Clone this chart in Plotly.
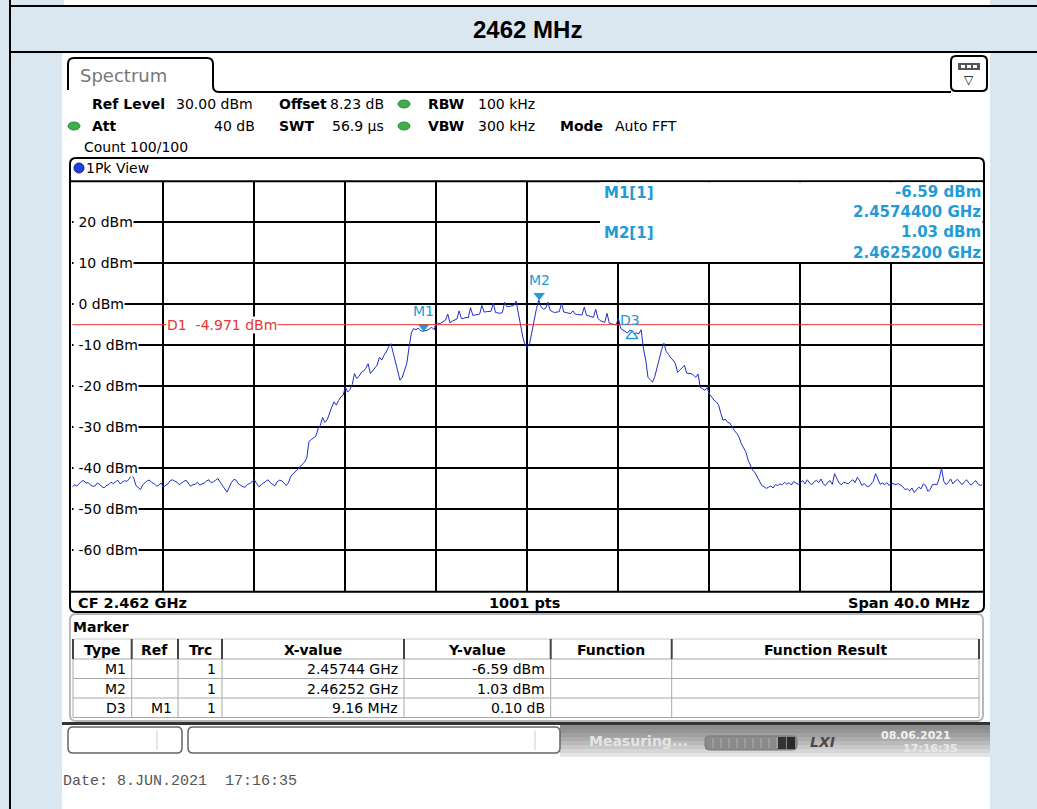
import numpy as np
import plotly.graph_objects as go

W, H = 1037, 809

# ---------------- data ----------------
title_text = "2462 MHz"
center_freq_ghz = 2.462
span_mhz = 40.0
step_mhz = 0.1
points_label = "1001 pts"

# trace level (dBm), 0.1 MHz steps from 2.442 GHz to 2.482 GHz
trace_dbm = [
    -44.6, -44.0, -44.3, -43.8, -43.2, -43.0, -43.6, -43.5, -44.1, -44.4,
    -44.3, -43.6, -43.9, -44.5, -44.8, -44.2, -44.0, -43.4, -43.7, -43.3,
    -42.9, -43.8, -43.5, -43.0, -43.2, -42.6, -41.6, -42.4, -44.2, -44.8,
    -45.2, -44.0, -43.6, -43.0, -42.9, -43.5, -43.8, -44.3, -44.1, -43.6,
    -44.6, -44.2, -43.8, -43.0, -42.8, -43.1, -43.4, -44.0, -43.5, -43.2,
    -42.9, -43.6, -44.4, -44.0, -43.9, -43.4, -44.1, -43.8, -43.6, -43.1,
    -42.8, -43.5, -43.3, -42.9, -42.5, -43.4, -44.3, -45.0, -45.8, -44.6,
    -43.4, -42.7, -42.9, -43.8, -44.2, -44.5, -44.6, -43.9, -43.7, -43.2,
    -42.8, -43.7, -44.5, -44.0, -43.6, -43.0, -42.8, -43.5, -44.0, -44.3,
    -43.3, -42.9, -43.0, -43.7, -44.2, -43.5, -42.0, -41.4, -40.8, -40.2,
    -39.7, -39.2, -38.5, -37.6, -33.5, -33.0, -32.6, -32.2, -30.4, -29.5,
    -27.6, -28.8, -28.2, -26.5, -25.1, -23.8, -24.6, -23.5, -22.6, -22.2,
    -20.2, -21.4, -20.8, -19.6, -16.9, -18.1, -17.6, -16.6, -16.3, -15.6,
    -14.5, -16.9, -16.2, -15.6, -14.8, -12.9, -13.6, -12.4, -11.6, -10.4,
    -9.6, -11.8, -14.0, -16.5, -18.5, -17.8, -16.0, -14.4, -10.5, -7.0,
    -5.9, -6.2, -5.8, -6.4, -6.59, -6.5, -6.3, -6.0, -5.6, -6.2,
    -4.4, -4.7, -4.6, -4.2, -3.9, -2.4, -4.5, -4.1, -3.8, -3.6,
    -1.6, -3.5, -3.4, -3.2, -3.3, -0.8, -2.7, -2.6, -2.5, -2.4,
    -0.3, -1.9, -1.8, -1.8, -1.7, 0.3, -2.0, -2.1, -2.2, -2.0,
    0.5, -0.6, -0.5, -0.4, -0.3, 0.8, -2.3, -5.0, -8.0, -10.0,
    -10.5, -9.5, -6.5, -3.9, -1.0, 1.03, -0.6, -1.2, -1.0, 0.5,
    -1.5, -1.8, -2.0, -1.9, -1.8, 0.2, -1.9, -2.0, -2.1, -2.3,
    -1.6, -2.4, -2.5, -2.5, -2.6, -0.7, -2.7, -2.8, -3.0, -3.2,
    -1.2, -3.4, -4.0, -4.3, -4.4, -2.2, -4.6, -4.8, -4.9, -5.0,
    -3.4, -5.9, -6.3, -6.6, -7.0, -6.3, -6.49, -7.1, -7.0, -7.2,
    -6.2, -10.8, -13.6, -17.8, -18.4, -19.0, -17.6, -15.4, -13.0, -11.0,
    -9.5, -11.5, -12.2, -13.1, -13.6, -14.4, -16.6, -16.0, -15.6, -14.9,
    -16.8, -16.9, -16.9, -17.3, -17.8, -17.0, -20.3, -20.6, -21.0, -20.3,
    -22.0, -22.6, -23.4, -23.8, -24.5, -26.6, -28.3, -28.0, -28.8, -29.0,
    -30.0, -30.8, -31.5, -32.4, -34.0, -35.0, -36.0, -38.0, -39.5, -40.5,
    -41.0, -42.2, -43.0, -44.2, -44.5, -44.9, -44.6, -44.3, -44.8, -44.0,
    -44.2, -43.8, -44.0, -43.4, -43.9, -43.5, -44.1, -43.2, -43.6, -43.9,
    -43.5, -43.0, -43.8, -42.8, -43.6, -44.0, -43.3, -42.9, -43.5, -42.6,
    -43.8, -44.2, -43.4, -43.0, -43.9, -41.3, -42.5, -43.6, -44.0, -43.4,
    -43.6, -43.8, -43.2, -42.8, -43.5, -42.2, -43.0, -44.2, -43.7, -44.3,
    -44.5, -43.8, -43.2, -41.3, -42.4, -43.9, -43.6, -44.0, -43.5, -44.2,
    -43.6, -43.8, -44.0, -43.7, -44.1, -44.5, -45.2, -45.0, -45.5, -44.8,
    -45.9, -45.3, -44.6, -45.0, -43.8, -44.2, -45.6, -45.2, -44.0, -43.9,
    -44.0, -42.4, -40.0, -43.2, -44.0, -43.4, -42.6, -43.8, -43.1, -42.7,
    -43.4, -44.0, -43.3, -42.8, -43.6, -44.1, -43.5, -43.0, -43.8, -44.2,
    -44.0,
]

y_top_dbm, y_bottom_dbm = 30, -70
y_tick_values = [20, 10, 0, -10, -20, -30, -40, -50, -60]
y_tick_labels = [f"{v} dBm" for v in y_tick_values]
d1_dbm = -4.971

marker_names = ["M1", "M2"]
marker_freq_ghz = [2.45744, 2.46252]
marker_dbm = [-6.59, 1.03]
delta_name = "D3"
delta_ref = "M1"
delta_freq_mhz = 9.16
delta_db = 0.10

table_header = ["Type", "Ref", "Trc", "X-value", "Y-value", "Function", "Function Result"]
table_rows = [
    ["M1", "", "1", "2.45744 GHz", "-6.59 dBm", "", ""],
    ["M2", "", "1", "2.46252 GHz", "1.03 dBm", "", ""],
    ["D3", "M1", "1", "9.16 MHz", "0.10 dB", "", ""],
]
date_text = "Date: 8.JUN.2021\u00a0\u00a017:16:35"

# ---------------- helpers ----------------
FONT = "DejaVu Sans"
MK = "#239bd6"
shapes, annotations = [], []


def X(x):
    return x / W


def Y(y):
    return 1 - y / H


def rect(x0, y0, x1, y1, fill, line=None, lw=0, layer="below"):
    shapes.append(dict(type="rect", xref="paper", yref="paper", x0=X(x0), x1=X(x1),
                       y0=Y(y1), y1=Y(y0), fillcolor=fill,
                       line=dict(color=line or "rgba(0,0,0,0)", width=lw), layer=layer))


def line(x0, y0, x1, y1, color, lw=1, layer="above"):
    shapes.append(dict(type="line", xref="paper", yref="paper", x0=X(x0), x1=X(x1),
                       y0=Y(y0), y1=Y(y1), line=dict(color=color, width=lw), layer=layer))


def rrect(x0, y0, x1, y1, r, fill=None, line_color="black", lw=2, layer="above"):
    def p(x, y):
        return f"{X(x):.6f},{Y(y):.6f}"
    path = (f"M {p(x0 + r, y0)} L {p(x1 - r, y0)} Q {p(x1, y0)} {p(x1, y0 + r)} "
            f"L {p(x1, y1 - r)} Q {p(x1, y1)} {p(x1 - r, y1)} L {p(x0 + r, y1)} "
            f"Q {p(x0, y1)} {p(x0, y1 - r)} L {p(x0, y0 + r)} Q {p(x0, y0)} {p(x0 + r, y0)} Z")
    shapes.append(dict(type="path", xref="paper", yref="paper", path=path,
                       fillcolor=fill or "rgba(0,0,0,0)",
                       line=dict(color=line_color, width=lw), layer=layer))


def ellipse(x0, y0, x1, y1, fill, line_color):
    shapes.append(dict(type="circle", xref="paper", yref="paper", x0=X(x0), x1=X(x1),
                       y0=Y(y1), y1=Y(y0), fillcolor=fill,
                       line=dict(color=line_color, width=1), layer="above"))


def txt(x, y, s, size=14, color="black", bold=False, xanchor="left", family=FONT, bg=None):
    annotations.append(dict(xref="paper", yref="paper", x=X(x), y=Y(y),
                            text=(f"<b>{s}</b>" if bold else s), showarrow=False,
                            xanchor=xanchor, yanchor="middle", borderpad=0,
                            font=dict(family=family, size=size, color=color), bgcolor=bg))


# ---------------- background / document ----------------
rect(64, 0, 990, 5, "white")
rect(62, 53, 990, 809, "white")
line(10, 6, 1037, 6, "black", 2)
line(10, 52, 1037, 52, "black", 2)
line(10, 0, 10, 809, "black", 2)
txt(527, 30, title_text, size=24, bold=True, xanchor="center", family="Liberation Sans")

# ---------------- analyzer header ----------------
tab_pts = [(68, 90), (68, 64), (68, 58), (74, 58), (207, 58), (213, 58), (213, 64),
           (213, 86), (213, 92), (219, 92), (951, 92)]
pp = lambda a: f"{X(a[0]):.6f},{Y(a[1]):.6f}"
tab_path = (f"M {pp(tab_pts[0])} L {pp(tab_pts[1])} Q {pp(tab_pts[2])} {pp(tab_pts[3])} "
            f"L {pp(tab_pts[4])} Q {pp(tab_pts[5])} {pp(tab_pts[6])} L {pp(tab_pts[7])} "
            f"Q {pp(tab_pts[8])} {pp(tab_pts[9])} L {pp(tab_pts[10])}")
shapes.append(dict(type="path", xref="paper", yref="paper", path=tab_path,
                   line=dict(color="black", width=2), layer="above"))
txt(79, 76, "Spectrum", size=18, color="#777777")
rrect(951, 56, 987, 91, 5, fill="white", lw=2)
rect(958, 63, 980, 70, "#555555", layer="above")
for sx in (961, 967, 973):
    rect(sx, 65, sx + 4, 68, "white", layer="above")
txt(969, 80, "▽", size=12, xanchor="center")

green, greenl = "#3dae4a", "#2b8a35"
txt(91, 104, "Ref Level", bold=True)
txt(175, 104, "30.00 dBm")
txt(278, 104, "Offset", bold=True)
txt(329, 104, "8.23 dB")
ellipse(398, 100, 410, 108, green, greenl)
txt(427, 104, "RBW", bold=True)
txt(477, 104, "100 kHz")
ellipse(68, 122, 80, 130, green, greenl)
txt(91, 126, "Att", bold=True)
txt(256, 126, "40 dB", xanchor="right")
txt(278, 126, "SWT", bold=True)
txt(331, 126, "56.9 µs")
ellipse(398, 122, 410, 130, green, greenl)
txt(427, 126, "VBW", bold=True)
txt(477, 126, "300 kHz")
txt(559, 126, "Mode", bold=True)
txt(614, 126, "Auto FFT")
txt(83, 147, "Count 100/100")

# ---------------- plot frame ----------------
PX0, PX1, PY0, PY1 = 72.3, 982.5, 181.3, 591.3
DB_PER_PX = (y_top_dbm - y_bottom_dbm) / (PY1 - PY0)
rrect(70, 158, 984, 612, 6, fill=None, lw=2)
line(70, PY0, 984, PY0, "black", 2)
line(70, PY1 + 0.5, 984, PY1 + 0.5, "black", 2)
ellipse(74, 163, 84, 173, "#2040e0", "#10208a")
txt(85, 168, "1Pk View")

# marker readout box (covers grid)
rect(600, PY0 + 1, PX1, 262, "white", layer="above")
for i, (nm, f, v) in enumerate(zip(marker_names, marker_freq_ghz, marker_dbm)):
    y0 = 192 + i * 40.5
    txt(603, y0 + 0.5, f"{nm}[1]", size=15, color=MK, bold=True)
    txt(982, y0, f"{v:.2f} dBm", size=15, color=MK, bold=True, xanchor="right")
    txt(982, y0 + 20, f"{f:.7f} GHz", size=15, color=MK, bold=True, xanchor="right")

# y labels
for v, lab in zip(y_tick_values, y_tick_labels):
    ypix = PY0 + (y_top_dbm - v) / DB_PER_PX
    txt(73, ypix, "\u00a0" + lab, size=14, bg="white")

# D1 line
shapes.append(dict(type="line", xref="paper", yref="y", x0=X(PX0), x1=X(PX1),
                   y0=d1_dbm, y1=d1_dbm, line=dict(color="#e8352e", width=1), layer="above"))
d1_y = PY0 + (y_top_dbm - d1_dbm) / DB_PER_PX
txt(166, d1_y, f"D1\u00a0\u00a0{d1_dbm:.3f} dBm", size=14, color="#e8352e", bg="white")

# marker labels
for nm, f, v in zip(marker_names, marker_freq_ghz, marker_dbm):
    annotations.append(dict(x=f, y=v, xref="x", yref="y", text=nm, showarrow=False,
                            yanchor="bottom", yshift=10, font=dict(family=FONT, size=14, color=MK)))
ref_i = marker_names.index(delta_ref)
d3_f = marker_freq_ghz[ref_i] + delta_freq_mhz / 1000
d3_v = marker_dbm[ref_i] + delta_db
annotations.append(dict(x=d3_f, y=d3_v, xref="x", yref="y", text=delta_name, showarrow=False,
                        yanchor="middle", yshift=11, xshift=-2,
                        font=dict(family=FONT, size=14, color=MK)))

# footer
txt(77, 602.5, f"CF {center_freq_ghz:.3f} GHz", size=14.5, bold=True)
txt(524.5, 602.5, points_label, size=14.5, bold=True, xanchor="center")
txt(971, 602.5, f"Span {span_mhz:.1f} MHz", size=14.5, bold=True, xanchor="right")

# ---------------- marker table ----------------
rrect(70, 614, 983, 721, 6, fill="white", line_color="#b8b8b8", lw=2)
line(62, 723.5, 990, 723.5, "#333333", 3)
txt(72, 626.5, "Marker", size=14, bold=True)
cols = [73, 131.7, 178, 222, 404, 550.7, 671.7, 979]
ty0, ty1 = 639, 659
row_lines = [659, 678.5, 698, 717.5]
line(cols[0], ty0, cols[-1], ty0, "#c8c8c8", 1)
for yl in row_lines:
    line(cols[0], yl, cols[-1], yl, "#a8a8a8", 1)
for cx in cols:
    line(cx, ty0, cx, ty1, "#444444", 2)
    line(cx, ty1, cx, row_lines[-1], "#a8a8a8", 1)
for j, h in enumerate(table_header):
    txt((cols[j] + cols[j + 1]) / 2, 649.5, h, size=14, bold=True, xanchor="center")
row_ys = [669, 688.5, 708]
for r, ry in zip(table_rows, row_ys):
    for j, cell in enumerate(r):
        if cell:
            txt(cols[j + 1] - 5, ry, cell, size=14, xanchor="right")

# ---------------- status bar ----------------
grad = ["#8c8c8c", "#959595", "#a0a0a0", "#acacac", "#bababa", "#c8c8c8", "#d6d6d6", "#e4e4e4"]
for k, c in enumerate(grad):
    rect(560, 725 + k * 4, 990, 729 + k * 4, c, layer="above")
rrect(68, 727, 182, 753, 5, fill="white", line_color="#666666", lw=1.5)
line(157, 731, 157, 750, "#cccccc", 1)
rrect(188, 727, 560, 753, 5, fill="white", line_color="#666666", lw=1.5)
line(535, 731, 535, 750, "#cccccc", 1)
txt(588, 741, "Measuring...", size=14, bold=True, color="#e4e4e4")
rrect(705, 736, 797, 750, 4, fill="#8a8a8a", line_color="#7a7a7a", lw=1)
for sx in range(713, 778, 8):
    line(sx, 738, sx, 748, "#b0b0b0", 1)
rect(778, 737, 786, 749, "#333333", layer="above")
rect(787, 737, 795, 749, "#2a2a2a", layer="above")
txt(809, 742, "<i>LXI</i>", size=14, bold=True, color="#4a4a4a")
txt(916, 735, "08.06.2021", size=11, bold=True, color="#f2f2f2", xanchor="center")
txt(930, 748, "17:16:35", size=11, bold=True, color="#e8e8e8", xanchor="center")

txt(62, 781, date_text, size=15, color="#555555", family="Liberation Mono")

# ---------------- figure ----------------
f_start = center_freq_ghz - span_mhz / 2000
f_stop = center_freq_ghz + span_mhz / 2000
freq_ghz = f_start + np.arange(len(trace_dbm)) * step_mhz / 1000

fig = go.Figure()
fig.add_trace(go.Scatter(x=freq_ghz, y=trace_dbm, mode="lines",
                         line=dict(color="#1f30c8", width=1), hoverinfo="skip",
                         showlegend=False))
# marker symbols (offset a few pixels from the trace point, as on the analyzer)
fig.add_trace(go.Scatter(x=marker_freq_ghz, y=[v + 4.5 * DB_PER_PX for v in marker_dbm],
                         mode="markers", hoverinfo="skip", showlegend=False,
                         marker=dict(symbol="triangle-down", size=10, color=MK,
                                     line=dict(width=0))))
fig.add_trace(go.Scatter(x=[d3_f], y=[d3_v - 5 * DB_PER_PX], mode="markers",
                         hoverinfo="skip", showlegend=False,
                         marker=dict(symbol="triangle-up-open", size=10, color=MK,
                                     line=dict(width=1.5, color=MK))))
fig.update_layout(
    width=W, height=H, autosize=False,
    margin=dict(l=0, r=0, t=0, b=0, pad=0),
    paper_bgcolor="#dae7f0", plot_bgcolor="white",
    showlegend=False,
    xaxis=dict(domain=[X(PX0), X(PX1)], range=[f_start, f_stop], tick0=f_start,
               dtick=span_mhz / 10 / 1000, showgrid=True, gridcolor="black", gridwidth=1.5,
               showticklabels=False, ticks="", zeroline=False, showline=False, fixedrange=True),
    yaxis=dict(domain=[Y(PY1), Y(PY0)], range=[y_bottom_dbm, y_top_dbm], tick0=0, dtick=10,
               showgrid=True, gridcolor="black", gridwidth=1.5, showticklabels=False, ticks="",
               zeroline=False, showline=False, fixedrange=True),
    shapes=shapes,
    annotations=annotations,
)
fig.write_html(
    "out.html", config={"displayModeBar": False},
    post_script=("document.body.style.margin='0px';"
                 "document.body.style.overflow='hidden';"
                 "document.documentElement.style.overflow='hidden';"))
